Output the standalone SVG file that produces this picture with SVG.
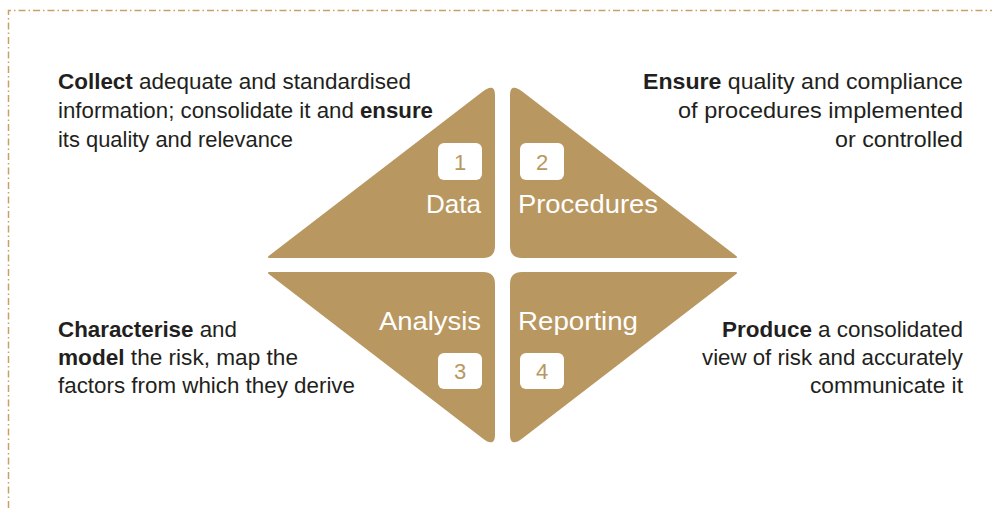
<svg xmlns="http://www.w3.org/2000/svg" width="992" height="508" viewBox="0 0 992 508">
<style>
.frame{fill:none;stroke:#c9a063;stroke-width:1.5;stroke-dasharray:7 3 1.5 3}
.tri{fill:#b99760;stroke:#b99760;stroke-width:2;stroke-linejoin:round}
.box{fill:#ffffff}
.num{font-family:"Liberation Sans",Arial,sans-serif;font-size:22px;fill:#b99760;text-anchor:middle}
.lbl{font-family:"Liberation Sans",Arial,sans-serif;font-size:26px;fill:#ffffff}
.desc{font-family:"Liberation Sans",Arial,sans-serif;font-size:21.5px;fill:#231f20}
.b{font-weight:bold}
.end{text-anchor:end}
</style>
<defs>
<path id="triShape" d="M 494,95 L 494,246 Q 494,257 483,257 L 269,257 L 483.7,92 Q 494,84 494,95 Z"/>
</defs>
<rect width="992" height="508" fill="#ffffff"/>
<g id="frame">
<path class="frame" d="M 8.5,508 L 8.5,10.5 L 992,10.5"/>
</g>
<g id="node-data">
<use href="#triShape" class="tri"/>
<rect class="box" x="438" y="143" width="44" height="37" rx="6"/>
<text class="num" x="460" y="170">1</text>
<text class="lbl end" x="481" y="213" textLength="55" lengthAdjust="spacingAndGlyphs">Data</text>
</g>
<g id="node-procedures">
<use href="#triShape" class="tri" transform="matrix(-1 0 0 1 1005 0)"/>
<rect class="box" x="520" y="143" width="44" height="37" rx="6"/>
<text class="num" x="542" y="170">2</text>
<text class="lbl" x="518" y="213" textLength="140" lengthAdjust="spacingAndGlyphs">Procedures</text>
</g>
<g id="node-analysis">
<use href="#triShape" class="tri" transform="matrix(1 0 0 -1 0 530)"/>
<rect class="box" x="438" y="353" width="44" height="36" rx="6"/>
<text class="num" x="460" y="379">3</text>
<text class="lbl end" x="481" y="330" textLength="102" lengthAdjust="spacingAndGlyphs">Analysis</text>
</g>
<g id="node-reporting">
<use href="#triShape" class="tri" transform="matrix(-1 0 0 -1 1005 530)"/>
<rect class="box" x="520" y="353" width="44" height="36" rx="6"/>
<text class="num" x="542" y="379">4</text>
<text class="lbl" x="518" y="330" textLength="120" lengthAdjust="spacingAndGlyphs">Reporting</text>
</g>
<g id="text-data">
<text class="desc" x="58" y="89" textLength="353" lengthAdjust="spacingAndGlyphs"><tspan class="b">Collect</tspan> adequate and standardised</text>
<text class="desc" x="58" y="118" textLength="375" lengthAdjust="spacingAndGlyphs">information; consolidate it and <tspan class="b">ensure</tspan></text>
<text class="desc" x="58" y="147" textLength="235" lengthAdjust="spacingAndGlyphs">its quality and relevance</text>
</g>
<g id="text-procedures">
<text class="desc end" x="963" y="89" textLength="320" lengthAdjust="spacingAndGlyphs"><tspan class="b">Ensure</tspan> quality and compliance</text>
<text class="desc end" x="963" y="118" textLength="285" lengthAdjust="spacingAndGlyphs">of procedures implemented</text>
<text class="desc end" x="963" y="147" textLength="128" lengthAdjust="spacingAndGlyphs">or controlled</text>
</g>
<g id="text-analysis">
<text class="desc" x="58" y="337" textLength="179" lengthAdjust="spacingAndGlyphs"><tspan class="b">Characterise</tspan> and</text>
<text class="desc" x="58" y="365" textLength="240" lengthAdjust="spacingAndGlyphs"><tspan class="b">model</tspan> the risk, map the</text>
<text class="desc" x="58" y="393" textLength="297" lengthAdjust="spacingAndGlyphs">factors from which they derive</text>
</g>
<g id="text-reporting">
<text class="desc end" x="963" y="337" textLength="241" lengthAdjust="spacingAndGlyphs"><tspan class="b">Produce</tspan> a consolidated</text>
<text class="desc end" x="963" y="365" textLength="261" lengthAdjust="spacingAndGlyphs">view of risk and accurately</text>
<text class="desc end" x="963" y="393" textLength="153" lengthAdjust="spacingAndGlyphs">communicate it</text>
</g>
<g id="connectors"></g>
</svg>
